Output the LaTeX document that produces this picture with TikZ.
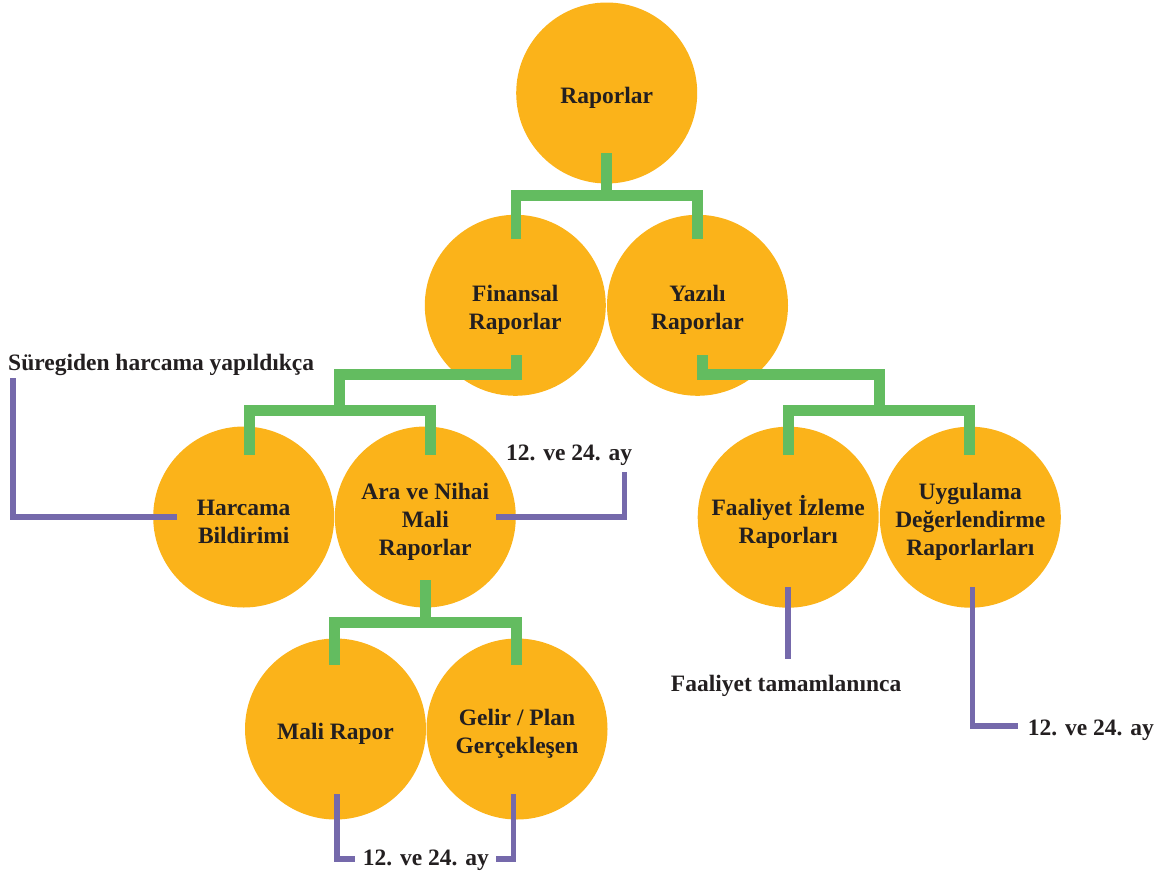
\documentclass[tikz,border=0pt]{standalone}
\usepackage{fontspec}
\setmainfont{Liberation Serif}
\usetikzlibrary{calc}
\definecolor{circ}{HTML}{FBB31A}
\definecolor{grn}{HTML}{63BC60}
\definecolor{prp}{HTML}{7569AB}
\definecolor{txt}{HTML}{231F20}
\begin{document}
\begin{tikzpicture}[x=1pt,y=-1pt,
  bubble/.style={circle,fill=circ,minimum size=181pt,inner sep=0pt},
  btext/.style={inner sep=0pt,align=center,text=txt,yshift=-5pt,
    font=\bfseries\fontsize{23.5}{28}\selectfont},
  lbl/.style={anchor=base west,inner sep=0pt,text=txt,font=\bfseries\fontsize{23.5}{28}\selectfont},
  gline/.style={draw=grn,line width=10.7pt,miter limit=10},
  pline/.style={draw=prp,line width=5.6pt,miter limit=10}]
\useasboundingbox (0,0) rectangle (1162,873);
% circles
\node[bubble] (r) at (606.7,93) {};
\node[bubble] (f) at (515.3,305.3) {};
\node[bubble] (y) at (697.5,305.3) {};
\node[bubble] (h) at (243.7,517) {};
\node[bubble] (a) at (425.3,517) {};
\node[bubble] (fy) at (788.2,517.2) {};
\node[bubble] (uy) at (970.3,517.2) {};
\node[bubble] (m) at (335.5,729) {};
\node[bubble] (g) at (517,729) {};
% circle texts
\node[btext] (rt) at (r) {Raporlar};
\node[btext] (ft) at (f) {Finansal\\Raporlar};
\node[btext] (yt) at (y) {Yazılı\\Raporlar};
\node[btext] (ht) at (h) {Harcama\\Bildirimi};
\node[btext] (at) at (a) {Ara ve Nihai\\Mali\\Raporlar};
\node[btext] (fyt) at (fy) {Faaliyet İzleme\\Raporları};
\node[btext] (uyt) at (uy) {Uygulama\\Değerlendirme\\Raporlarları};
\node[btext] (mt) at (m) {Mali Rapor};
\node[btext] (gt) at (g) {Gelir / Plan\\Gerçekleşen};
% labels
\node[lbl] (s) at (8,370) {Süregiden harcama yapıldıkça};
\node[lbl] (a1) at (506,460) {12. ve 24. ay};
\node[lbl] (fl) at (670.7,691) {Faaliyet tamamlanınca};
\node[lbl] (u1) at (1027.7,735) {12. ve 24. ay};
\node[lbl] (m1) at (362.7,865) {12. ve 24. ay};
% green connectors
\draw[gline] ($(r.center)+(0,60)$) -- ($(r.center)+(0,102.5)$);
\draw[gline] ($(f.north)+(0.7,24)$) |- ($(r.center)+(0,102.5)$) -| ($(y.north)+(0,24)$);
\draw[gline] ($(f.center)+(1.2,49.7)$) |- ($(f.center)+(-175.8,69.2)$) -- ($(f.center)+(-175.8,105.7)$);
\draw[gline] ($(h.north)+(5.8,28.5)$) -- ($(h.north)+(5.8,-15.5)$) -| ($(a.north)+(5,28.5)$);
\draw[gline] ($(y.center)+(5.2,49.7)$) |- ($(y.center)+(182.2,69.2)$) -- ($(y.center)+(182.2,105.7)$);
\draw[gline] ($(fy.north)+(0.5,28.1)$) -- ($(fy.north)+(0.5,-15.9)$) -| ($(uy.north)+(-1,28.1)$);
\draw[gline] ($(a.center)+(0.2,63)$) -- ($(a.center)+(0.2,105.5)$);
\draw[gline] ($(m.north)+(-1,26.5)$) -- ($(m.north)+(-1,-16)$) -| ($(g.north)+(-0.5,26.5)$);
% purple connectors
\draw[pline] ($(h.center)+(-66.7,0)$) -| ($(s.base west)+(5,8)$);
\draw[pline] ($(a.center)+(70.7,0)$) -| ($(a1.base west)+(118.5,12)$);
\draw[pline] ($(fy.center)+(-0.2,70)$) -- ($(fl.base west)+(117.3,-32)$);
\draw[pline] ($(uy.center)+(2.2,70)$) |- ($(u1.base west)+(-9.7,-9)$);
\draw[pline] ($(m.center)+(1.5,65)$) |- ($(m1.base west)+(-7.7,-6)$);
\draw[pline] ($(g.center)+(-3.7,65)$) |- ($(m1.base west)+(133,-6)$);
\end{tikzpicture}
\end{document}
